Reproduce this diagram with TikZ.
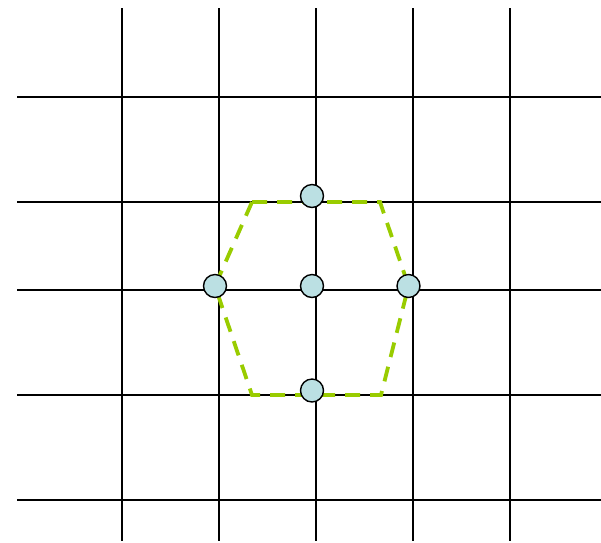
\documentclass[tikz,border=0pt]{standalone}
\usepackage{tikz}
\definecolor{hexgreen}{RGB}{153,204,0}
\definecolor{siteblue}{RGB}{187,224,227}
\begin{document}
\begin{tikzpicture}[x=1pt,y=-1pt]
\useasboundingbox (0,0) rectangle (601,542);
\tikzset{site/.style={circle,draw=black,line width=1.4pt,fill=siteblue,minimum size=23pt,inner sep=0pt}}
\tikzset{hexline/.style={draw=hexgreen,line width=3.8pt,dash pattern=on 15pt off 10pt}}
\foreach \x in {122,219,316,413,510}
  \draw[line width=2pt] (\x,8) -- (\x,541);
\foreach \y in {97,202,290,395,500}
  \draw[line width=2pt] (17,\y) -- (601,\y);
\coordinate (ctop) at (312,196);
\coordinate (cmid) at (312,286);
\coordinate (cleft) at (215,286);
\coordinate (cright) at (408.5,286);
\coordinate (cbot) at (312,390.5);
\draw[hexline] (252,202) -- (380,202) -- (cright) -- (381,395) -- (252,395) -- (cleft) -- cycle;
\node[site] (top) at (ctop) {};
\node[site] (mid) at (cmid) {};
\node[site] (left) at (cleft) {};
\node[site] (right) at (cright) {};
\node[site] (bot) at (cbot) {};
\end{tikzpicture}
\end{document}
